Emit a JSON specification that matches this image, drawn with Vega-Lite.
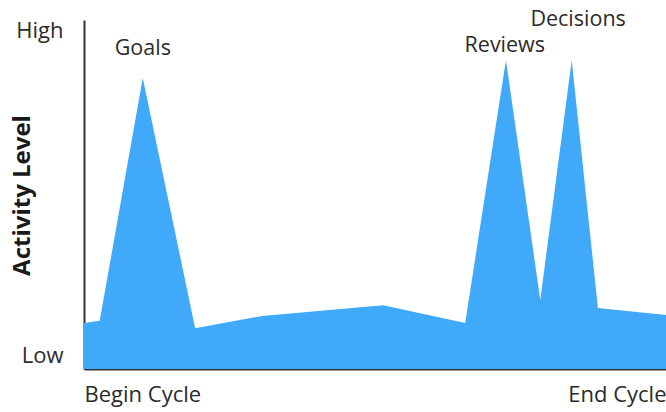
{
  "$schema": "https://vega.github.io/schema/vega-lite/v6.json",
  "width": 582,
  "height": 349,
  "autosize": {"type": "none"},
  "padding": {"left": 84, "top": 20, "right": 0, "bottom": 43},
  "config": {"view": {"stroke": null}, "font": "Open Sans"},
  "datasets": {
    "activity": [
      {"x": 0, "y": 13.2},
      {"x": 2.7, "y": 13.8},
      {"x": 10.1, "y": 83.4},
      {"x": 19.1, "y": 11.7},
      {"x": 30.6, "y": 15.2},
      {"x": 51.4, "y": 18.3},
      {"x": 65.5, "y": 13.2},
      {"x": 72.5, "y": 88.5},
      {"x": 78.4, "y": 19.8},
      {"x": 83.8, "y": 88.5},
      {"x": 88.3, "y": 17.5},
      {"x": 100, "y": 15.5}
    ],
    "notes": [
      {"x": 10.1, "y": 91.7, "label": "Goals"},
      {"x": 72.3, "y": 92.6, "label": "Reviews"},
      {"x": 84.9, "y": 100, "label": "Decisions"}
    ]
  },
  "layer": [
    {
      "data": {"name": "activity"},
      "mark": {"type": "area", "color": "#40A9FA", "interpolate": "linear"},
      "encoding": {
        "x": {
          "field": "x", "type": "quantitative",
          "scale": {"domain": [0, 100], "nice": false, "zero": false},
          "axis": {
            "values": [0, 100], "title": null, "grid": false, "ticks": false,
            "labelExpr": "datum.value == 0 ? 'Begin Cycle' : 'End Cycle'",
            "labelFlush": true, "labelFontSize": 22, "labelColor": "#2b2b2b",
            "labelPadding": 15, "domainColor": "#333333", "domainWidth": 2
          }
        },
        "y": {
          "field": "y", "type": "quantitative",
          "scale": {"domain": [0, 100], "nice": false},
          "axis": {
            "values": [4, 97], "grid": false, "ticks": false,
            "labelExpr": "datum.value < 50 ? 'Low' : 'High'",
            "labelFontSize": 22, "labelColor": "#2b2b2b", "labelPadding": 21,
            "labelBaseline": "middle",
            "domainColor": "#333333", "domainWidth": 2,
            "title": "Activity Level", "titleFontSize": 24, "titleFontWeight": "bold",
            "titleColor": "#1a1a1a", "titleX": -62, "titleY": 175,
            "titleAlign": "center", "titleBaseline": "middle", "titleAngle": -90
          }
        }
      }
    },
    {
      "data": {"name": "notes"},
      "mark": {"type": "text", "fontSize": 21.5, "color": "#2b2b2b", "baseline": "middle", "align": "center", "clip": false},
      "encoding": {
        "x": {"field": "x", "type": "quantitative"},
        "y": {"field": "y", "type": "quantitative"},
        "text": {"field": "label"}
      }
    }
  ]
}
